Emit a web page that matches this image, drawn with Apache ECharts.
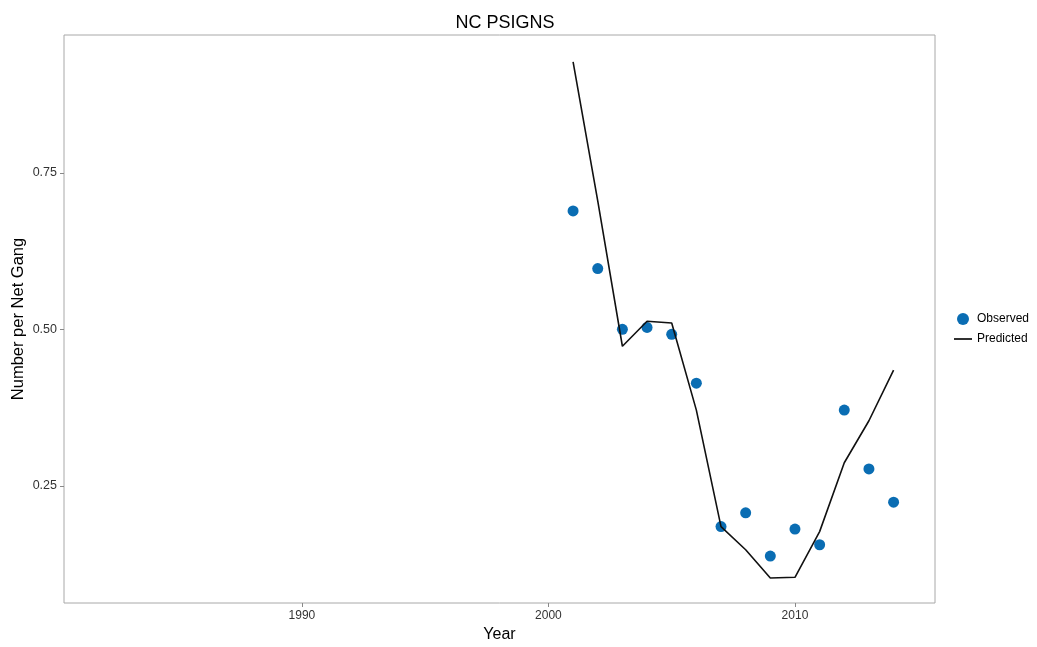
<!DOCTYPE html>
<html><head><meta charset="utf-8">
<script src="https://cdn.jsdelivr.net/npm/echarts@6/dist/echarts.min.js"></script>
<style>html,body{margin:0;padding:0;background:#fff}#c{width:1037px;height:647px}</style>
</head><body><div id="c"></div>
<script>
const years = [2001,2002,2003,2004,2005,2006,2007,2008,2009,2010,2011,2012,2013,2014];
const observed = [0.689,0.597,0.500,0.503,0.492,0.414,0.185,0.207,0.138,0.181,0.156,0.371,0.277,0.224];
const predicted = [0.927,0.705,0.473,0.513,0.510,0.371,0.185,0.148,0.103,0.104,0.177,0.287,0.354,0.435];
const xTicks = [1990,2000,2010];
const yTicks = [0.25,0.50,0.75];

const chart = echarts.init(document.getElementById('c'), null, {renderer:'canvas'});
const font = 'Liberation Sans, Arial, sans-serif';
chart.setOption({
  animation:false,
  backgroundColor:'#fff',
  title:{text:'NC PSIGNS',left:500,textAlign:'center',top:9,textStyle:{fontFamily:font,fontSize:18,fontWeight:'normal',color:'#000'}},
  grid:{left:64,right:102,top:35,bottom:44,show:true,borderColor:'#a8a8a8',borderWidth:1,backgroundColor:'#fff',outerBoundsMode:'none',containLabel:false},
  legend:{orient:'vertical',left:949,top:308,itemGap:8,itemWidth:18,itemHeight:12,
    textStyle:{fontFamily:font,fontSize:12,color:'#000'},
    data:[{name:'Observed',icon:'circle'},{name:'Predicted',icon:'path://M0,5.1 L20,5.1 L20,6.9 L0,6.9 Z',itemStyle:{color:'#000'}}]},
  xAxis:{type:'value',min:1980.35,max:2015.68,name:'Year',nameLocation:'middle',nameGap:23,
    nameTextStyle:{fontFamily:font,fontSize:16,color:'#000'},
    splitLine:{show:false},axisLine:{show:false},
    axisTick:{show:true,length:4,lineStyle:{color:'#888'},customValues:xTicks},
    axisLabel:{fontFamily:font,fontSize:12,color:'#333',margin:7,customValues:xTicks,formatter:v=>String(v)}},
  yAxis:{type:'value',min:0.063,max:0.970,name:'Number per Net Gang',nameLocation:'middle',nameGap:37,nameMoveOverlap:false,
    nameTextStyle:{fontFamily:font,fontSize:16.5,color:'#000'},
    splitLine:{show:false},axisLine:{show:false},
    axisTick:{show:true,length:4,lineStyle:{color:'#888'},customValues:yTicks},
    axisLabel:{fontFamily:font,fontSize:12.5,color:'#333',margin:7,customValues:yTicks,formatter:v=>v.toFixed(2)}},
  series:[
    {name:'Observed',type:'scatter',symbol:'circle',symbolSize:11,itemStyle:{color:'#0a6db3',opacity:1},
      data:years.map((y,i)=>[y,observed[i]])},
    {name:'Predicted',type:'line',symbol:'none',lineStyle:{color:'#111',width:1.6},itemStyle:{color:'#111'},
      data:years.map((y,i)=>[y,predicted[i]])}
  ]
});
</script></body></html>
